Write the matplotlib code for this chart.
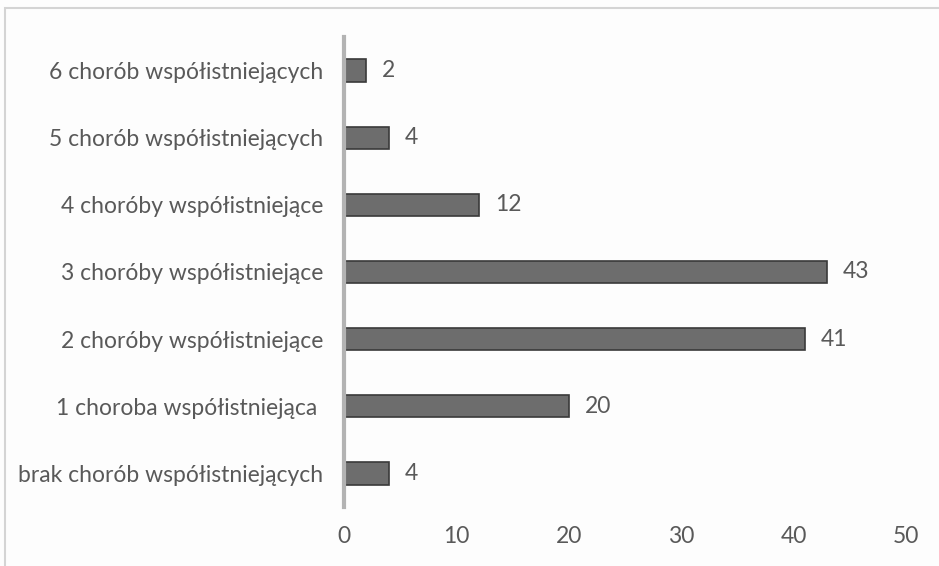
import matplotlib
matplotlib.use('Agg')
import matplotlib.pyplot as plt
from matplotlib.patches import Rectangle

categories = [
    'brak chorób współistniejących',
    '1 choroba współistniejąca ',
    '2 choróby współistniejące',
    '3 choróby współistniejące',
    '4 choróby współistniejące',
    '5 chorób współistniejących',
    '6 chorób współistniejących',
]
values = [4, 20, 41, 43, 12, 4, 2]
xticks = [0, 10, 20, 30, 40, 50]

plt.rcParams['font.family'] = ['Lato', 'DejaVu Sans']
text_color = '#595959'
fs = 16.5

fig = plt.figure(figsize=(9.39, 5.66), dpi=100)
fig.patch.set_facecolor('#fdfdfd')
ax = fig.add_axes([344 / 939, 1 - 507 / 566, (906 - 344) / 939, (507 - 37) / 566])
ax.set_facecolor('none')

# light frame around the chart area
fig.patches.append(Rectangle((5 / 939, -0.2), 1.5, 1 - 8 / 566 + 0.2,
                             transform=fig.transFigure, fill=False,
                             edgecolor='#d4d4d4', linewidth=1.5))

y = range(len(categories))
ax.barh(y, values, height=0.33, color='#6d6d6d', edgecolor='#3a3a3a', linewidth=1.2)
for yi, v in zip(y, values):
    ax.text(v + 1.4, yi, str(v), va='center', ha='left', fontsize=fs, color=text_color)

ax.set_xlim(0, 50)
ax.set_ylim(-0.5, len(categories) - 0.5)
ax.set_xticks(xticks)
ax.set_yticks(list(y))
ax.set_yticklabels(categories)
ax.tick_params(axis='both', length=0, labelsize=fs, labelcolor=text_color)
ax.tick_params(axis='x', pad=14)
ax.tick_params(axis='y', pad=15)

for side in ['top', 'right', 'bottom']:
    ax.spines[side].set_visible(False)
ax.spines['left'].set_color('#b3b3b3')
ax.spines['left'].set_linewidth(3)

fig.savefig('out.png', dpi=100, facecolor=fig.get_facecolor())
